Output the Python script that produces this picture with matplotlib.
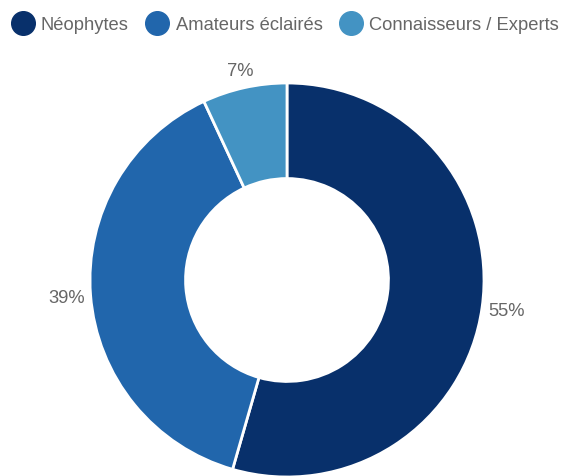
import numpy as np
import matplotlib
matplotlib.use("Agg")
import matplotlib.pyplot as plt
from matplotlib.lines import Line2D

categories = ["Néophytes", "Amateurs éclairés", "Connaisseurs / Experts"]
values = [55, 39, 7]
labels = ["55%", "39%", "7%"]
colors = ["#08306b", "#2166ac", "#4393c3"]

plt.rcParams["font.family"] = ["Liberation Sans", "DejaVu Sans"]

W, H = 563, 477
fig = plt.figure(figsize=(W / 100, H / 100), dpi=100)

cx, cy, r = 287, 281, 197
ax = fig.add_axes([(cx - r) / W, (H - cy - r) / H, 2 * r / W, 2 * r / H])
ax.axis("off")

wedges, _ = ax.pie(values, colors=colors, startangle=90, counterclock=False,
                   radius=1.0, wedgeprops=dict(width=0.485, edgecolor="white", linewidth=2),
                   frame=False)
ax.set_xlim(-1, 1)
ax.set_ylim(-1, 1)
ax.set_aspect("equal")

# labels sit just outside the ring, offset by half the text box along the bisector
half_w, half_h, gap = 0.09, 0.04, 0.03
for w, lab in zip(wedges, labels):
    ang = np.deg2rad((w.theta1 + w.theta2) / 2)
    c, s = np.cos(ang), np.sin(ang)
    d = 1.0 + gap + abs(c) * half_w + abs(s) * half_h
    ax.text(d * c, d * s, lab, ha="center", va="center",
            fontsize=13.2, color="#666666", clip_on=False)

handles = [Line2D([0], [0], marker="o", linestyle="none", markersize=17,
                  markerfacecolor=c, markeredgecolor=c) for c in colors]
fig.legend(handles, categories, loc="upper center", bbox_to_anchor=(0.505, 1.0),
           ncol=3, frameon=False, fontsize=13.2, labelcolor="#666666",
           handletextpad=0.3, columnspacing=0.85, handlelength=1.4,
           borderaxespad=0.55)

fig.savefig("out.png", dpi=100)
